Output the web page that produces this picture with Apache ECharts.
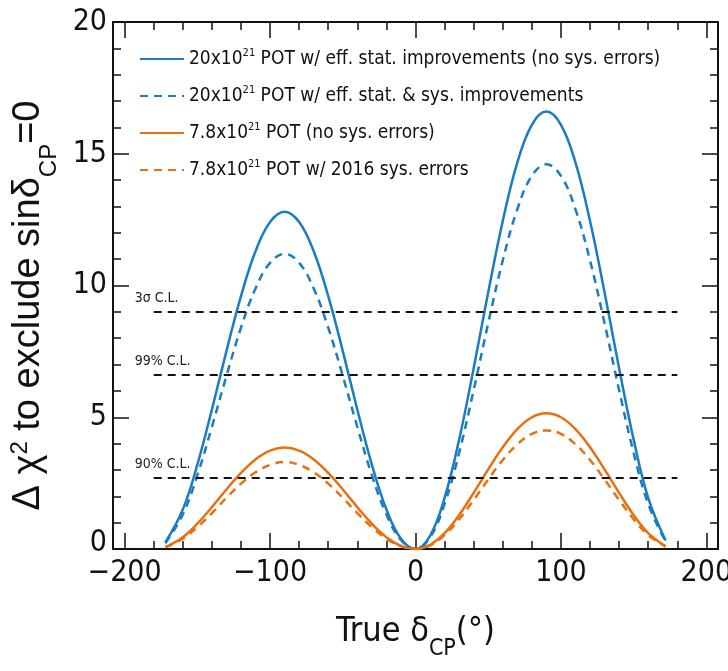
<!DOCTYPE html>
<html><head><meta charset="utf-8">
<script src="https://cdn.jsdelivr.net/npm/echarts@6/dist/echarts.min.js"></script>
<style>html,body{margin:0;padding:0;background:#fff}#c{width:728px;height:671px}</style>
</head><body><div id="c"></div>
<script>
// True delta_CP (degrees)
const deltaCP = [-172,-160,-150,-140,-130,-120,-110,-100,-90,-80,-70,-60,-50,-40,-30,-20,-10,0,10,20,30,40,50,60,70,80,90,100,110,120,130,140,150,160,172];
// Delta chi^2 values
const blueSolid  = [0.25,1.50,3.20,5.29,7.51,9.60,11.30,12.41,12.80,12.41,11.30,9.60,7.51,5.29,3.20,1.50,0.39,0,0.50,1.94,4.15,6.86,9.74,12.45,14.66,16.10,16.60,16.10,14.66,12.45,9.74,6.86,4.15,1.94,0.32];
const blueDashed = [0.22,1.31,2.80,4.63,6.57,8.40,9.89,10.86,11.20,10.86,9.89,8.40,6.57,4.63,2.80,1.31,0.34,0,0.44,1.71,3.65,6.03,8.57,10.95,12.89,14.16,14.60,14.16,12.89,10.95,8.57,6.03,3.65,1.71,0.28];
const orangeSolid  = [0.07,0.45,0.96,1.59,2.26,2.89,3.40,3.73,3.85,3.73,3.40,2.89,2.26,1.59,0.96,0.45,0.12,0,0.16,0.60,1.29,2.13,3.02,3.86,4.55,5.00,5.15,5.00,4.55,3.86,3.02,2.13,1.29,0.60,0.10];
const orangeDashed = [0.06,0.39,0.83,1.36,1.94,2.48,2.91,3.19,3.30,3.19,2.91,2.48,1.94,1.36,0.83,0.39,0.10,0,0.14,0.53,1.13,1.86,2.64,3.38,3.97,4.37,4.50,4.37,3.97,3.38,2.64,1.86,1.13,0.53,0.09];
const seriesNames = [
  '20x10^21 POT w/ eff. stat. improvements (no sys. errors)',
  '20x10^21 POT w/ eff. stat. & sys. improvements',
  '7.8x10^21 POT (no sys. errors)',
  '7.8x10^21 POT w/ 2016 sys. errors'
];
// Confidence levels
const clLevels = [9, 6.63, 2.71];
const clLabels = ['3σ C.L.', '99% C.L.', '90% C.L.'];
const clRange = [-180, 180];
// Axis ranges and ticks
const xRange = [-208, 208];
const xMajor = [-200, -100, 0, 100, 200];
const xMinor = [-180, -160, -140, -120, -80, -60, -40, -20, 20, 40, 60, 80, 120, 140, 160, 180];
const yTicks = [0, 20, 5];

const NARROW = "'Liberation Sans Narrow','DejaVu Sans Condensed','Liberation Sans',sans-serif";
const SANS = "'Liberation Sans','Helvetica',sans-serif";
const BLUE = '#1b7cc2', ORANGE = '#e8700f';

const pair = v => deltaCP.map((d, i) => [d, v[i]]);
const chart = echarts.init(document.getElementById('c'), null, {renderer: 'canvas'});

const legendFmt = name => {
  const p = name.split('^21');
  return '{t|' + p[0] + '}{sup|21}{t|' + p[1] + '}';
};

const majorTick = vals => ({show: true, inside: true, length: 16, customValues: vals, lineStyle: {color: '#111', width: 1.5}});
const minorTickC = vals => ({show: true, inside: true, length: 8, customValues: vals, lineStyle: {color: '#111', width: 1.5}});
const yTick = () => ({show: true, inside: true, length: 16, lineStyle: {color: '#111', width: 1.5}});
const yMinor = () => ({show: true, splitNumber: 5, length: 8, lineStyle: {color: '#111', width: 1.5}});
const frameLine = () => ({show: true, onZero: false, lineStyle: {color: '#111', width: 2}});
const noLine = () => ({show: false, onZero: false});
const gridBox = () => ({left: 113, right: 10, top: 22, bottom: 122, containLabel: false, outerBoundsMode: 'none'});

const option = {
  animation: false,
  backgroundColor: '#fff',
  grid: [gridBox(), gridBox()],
  xAxis: [
    {gridIndex: 0, type: 'value', min: xRange[0], max: xRange[1], position: 'bottom',
     axisLine: frameLine(), axisTick: majorTick(xMajor), splitLine: {show: false},
     axisLabel: {show: true, customValues: xMajor, margin: 9, fontFamily: NARROW, fontSize: 30, color: '#111',
       formatter: v => (v < 0 ? '\u2212' + Math.abs(v) : String(v))},
     name: '{n|True δ}{sub|CP}{n|(°)}', nameLocation: 'middle', nameGap: 66,
     nameTextStyle: {rich: {n: {fontFamily: NARROW, fontSize: 34, color: '#111'},
       sub: {fontFamily: NARROW, fontSize: 23, color: '#111', verticalAlign: 'bottom', padding: [0,0,-12,0]}}}},
    {gridIndex: 0, type: 'value', min: xRange[0], max: xRange[1], position: 'top',
     axisLine: frameLine(), axisTick: majorTick(xMajor), splitLine: {show: false}, axisLabel: {show: false}},
    {gridIndex: 1, type: 'value', min: xRange[0], max: xRange[1], position: 'bottom',
     axisLine: noLine(), axisTick: minorTickC(xMinor), axisLabel: {show: false}, splitLine: {show: false}},
    {gridIndex: 1, type: 'value', min: xRange[0], max: xRange[1], position: 'top',
     axisLine: noLine(), axisTick: minorTickC(xMinor), axisLabel: {show: false}, splitLine: {show: false}}
  ],
  yAxis: [
    {gridIndex: 0, type: 'value', min: yTicks[0], max: yTicks[1], interval: yTicks[2], position: 'left',
     axisLine: frameLine(), axisTick: yTick(), minorTick: yMinor(),
     splitLine: {show: false},
     axisLabel: {margin: 6, fontFamily: NARROW, fontSize: 30, color: '#111',
       formatter: v => (v === 0 ? '{z|0}' : String(v)),
       rich: {z: {fontFamily: NARROW, fontSize: 30, color: '#111', padding: [0, 0, 12, 0]}}},
     name: '{n|Δ χ}{sup|2}{n| to exclude sinδ}{sub|CP}{n|=0}', nameLocation: 'middle', nameGap: 60, nameRotate: 90,
     nameTextStyle: {padding: [0, 40, 0, 0], rich: {n: {fontFamily: SANS, fontSize: 38, color: '#111'},
       sup: {fontFamily: SANS, fontSize: 24, color: '#111', verticalAlign: 'top', padding: [0,0,16,0]},
       sub: {fontFamily: SANS, fontSize: 24, color: '#111', verticalAlign: 'bottom', padding: [0,0,-13,0]}}}},
    {gridIndex: 0, type: 'value', min: yTicks[0], max: yTicks[1], interval: yTicks[2], position: 'right',
     axisLine: frameLine(), axisTick: yTick(), minorTick: yMinor(),
     splitLine: {show: false}, axisLabel: {show: false}},
    {gridIndex: 1, type: 'value', min: yTicks[0], max: yTicks[1], show: false}
  ],
  legend: {
    orient: 'vertical', left: 134, top: 43, itemWidth: 44, itemHeight: 14, itemGap: 15,
    data: seriesNames, formatter: legendFmt,
    itemStyle: {opacity: 0},
    textStyle: {fontFamily: NARROW, fontSize: 19, color: '#111', lineHeight: 22,
      rich: {t: {fontFamily: NARROW, fontSize: 19, color: '#111'},
             sup: {fontFamily: NARROW, fontSize: 11, color: '#111', verticalAlign: 'top', padding: [0,0,10,0]}}}
  },
  series: [
    {name: seriesNames[0], type: 'line', xAxisIndex: 0, yAxisIndex: 0, data: pair(blueSolid), smooth: 0.4,
     showSymbol: false, symbol: 'none', color: BLUE, lineStyle: {color: BLUE, width: 2.5, type: 'solid'},
     markLine: {silent: true, symbol: 'none', animation: false,
       lineStyle: {color: '#111', width: 2, type: [8, 6]},
       label: {show: true, position: 'insideStartTop', distance: [-19, 6], fontFamily: NARROW, fontSize: 14, color: '#222'},
       data: clLevels.map((v, i) => [
         {coord: [clRange[0], v], label: {formatter: clLabels[i]}},
         {coord: [clRange[1], v]}
       ])}},
    {name: seriesNames[1], type: 'line', xAxisIndex: 0, yAxisIndex: 0, data: pair(blueDashed), smooth: 0.4,
     showSymbol: false, symbol: 'none', color: BLUE, lineStyle: {color: BLUE, width: 2.5, type: [8, 6]}},
    {name: seriesNames[2], type: 'line', xAxisIndex: 0, yAxisIndex: 0, data: pair(orangeSolid), smooth: 0.4,
     showSymbol: false, symbol: 'none', color: ORANGE, lineStyle: {color: ORANGE, width: 2.5, type: 'solid'}},
    {name: seriesNames[3], type: 'line', xAxisIndex: 0, yAxisIndex: 0, data: pair(orangeDashed), smooth: 0.4,
     showSymbol: false, symbol: 'none', color: ORANGE, lineStyle: {color: ORANGE, width: 2.5, type: [8, 6]}}
  ]
};
chart.setOption(option);
</script></body></html>
